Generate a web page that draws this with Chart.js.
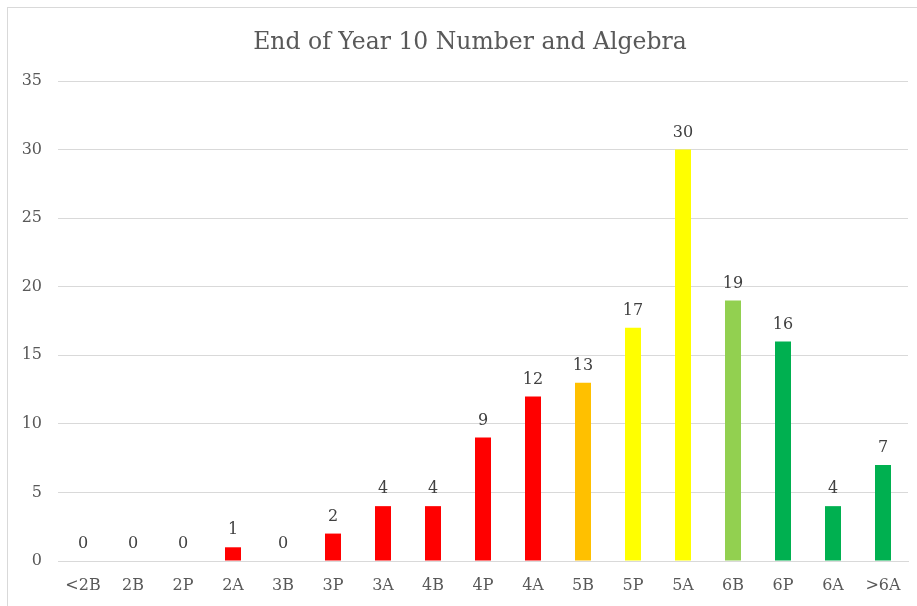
<!DOCTYPE html>
<html>
<head>
<meta charset="utf-8">
<script src="https://cdn.jsdelivr.net/npm/chart.js@4.4.1/dist/chart.umd.min.js"></script>
<style>
  html, body { margin: 0; padding: 0; background: #fff; overflow: hidden; }
  #frame { position: absolute; left: 7px; top: 7px; width: 940px; height: 640px; border: 1px solid #d9d9d9; box-sizing: border-box; }
  #c { position: absolute; left: 0; top: 0; }
</style>
</head>
<body>
<div id="frame"></div>
<canvas id="c" width="917" height="606"></canvas>
<script>
const titleText = "End of Year 10 Number and Algebra";
const categories = ["<2B","2B","2P","2A","3B","3P","3A","4B","4P","4A","5B","5P","5A","6B","6P","6A",">6A"];
const values = [0,0,0,1,0,2,4,4,9,12,13,17,30,19,16,4,7];
const barColors = ["#FF0000","#FF0000","#FF0000","#FF0000","#FF0000","#FF0000","#FF0000","#FF0000","#FF0000","#FF0000","#FFC000","#FFFF00","#FFFF00","#92D050","#00B050","#00B050","#00B050"];
const yTicks = [0,5,10,15,20,25,30,35];

const FONT = "'DejaVu Serif', 'Liberation Serif', serif";

const labelPlugin = {
  id: 'barLabels',
  afterDatasetsDraw(chart) {
    const ctx = chart.ctx;
    const meta = chart.getDatasetMeta(0);
    ctx.save();
    ctx.font = "16px " + FONT;
    ctx.fillStyle = "#404040";
    ctx.textAlign = "center";
    ctx.textBaseline = "bottom";
    meta.data.forEach((bar, i) => {
      ctx.fillText(String(values[i]), bar.x, bar.y - 9);
    });
    ctx.restore();
  }
};

const titlePlugin = {
  id: 'customTitle',
  afterDraw(chart) {
    const ctx = chart.ctx;
    ctx.save();
    ctx.font = "23.5px " + FONT;
    ctx.fillStyle = "#595959";
    ctx.textAlign = "center";
    ctx.textBaseline = "middle";
    ctx.fillText(titleText, 470, 43);
    ctx.restore();
  }
};

new Chart(document.getElementById('c'), {
  type: 'bar',
  data: {
    labels: categories,
    datasets: [{
      data: values,
      backgroundColor: barColors,
      borderWidth: 0,
      barPercentage: 0.32,
      categoryPercentage: 1.0
    }]
  },
  options: {
    responsive: false,
    maintainAspectRatio: false,
    animation: false,
    devicePixelRatio: 1,
    layout: { padding: { left: 0, right: 9, top: 81, bottom: 0 } },
    plugins: {
      legend: { display: false },
      title: { display: false },
      tooltip: { enabled: false }
    },
    scales: {
      x: {
        grid: { display: false, drawTicks: false },
        border: { display: true, color: "#d9d9d9", width: 1 },
        ticks: { color: "#595959", font: { family: FONT, size: 16 }, padding: 15, maxRotation: 0, autoSkip: false },
        afterFit(s) { s.height = 45; }
      },
      y: {
        min: 0, max: 35,
        afterBuildTicks(s) { s.ticks = yTicks.map(v => ({ value: v })); },
        grid: { color: "#d9d9d9", lineWidth: 1, drawTicks: false },
        border: { display: false },
        ticks: { color: "#595959", font: { family: FONT, size: 16 }, padding: 16 },
        afterFit(s) { s.width = 58; }
      }
    }
  },
  plugins: [labelPlugin, titlePlugin]
});
</script>
</body>
</html>
